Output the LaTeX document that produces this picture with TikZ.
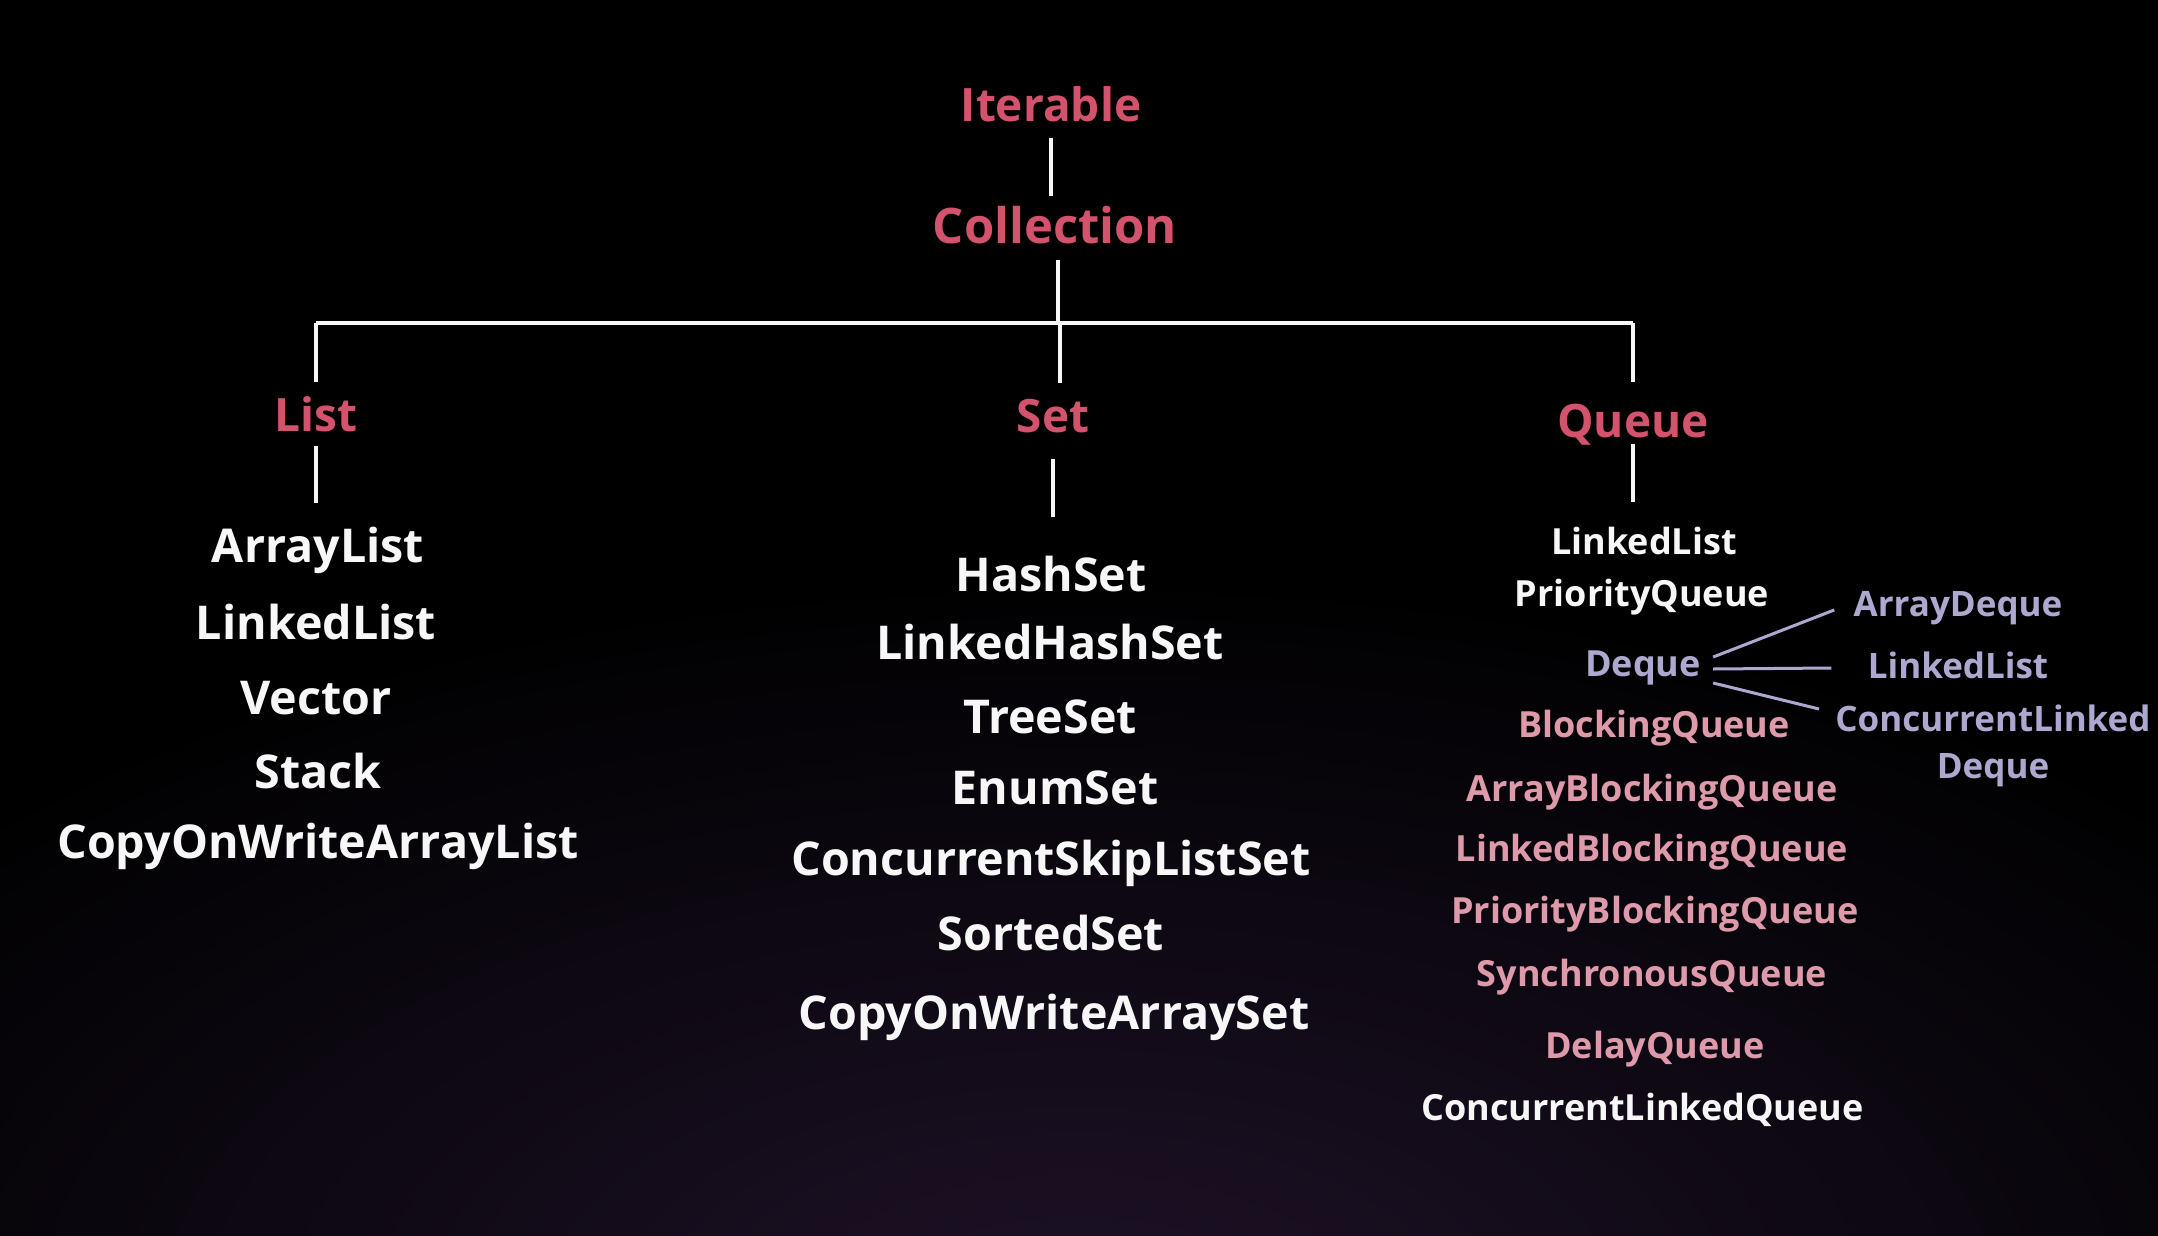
\documentclass[tikz,border=0pt]{standalone}
\usepackage{fontspec}
\setmainfont{Open Sans}
\definecolor{crim}{HTML}{D2536B}
\definecolor{pinkq}{HTML}{DE9AAB}
\definecolor{lav}{HTML}{ADA8D0}
\definecolor{offw}{HTML}{F7F7F7}
\definecolor{glow}{HTML}{1E1228}
\begin{document}
\begin{tikzpicture}[x=0.5pt,y=-0.5pt,
  title/.style={inner sep=0pt,text depth=0pt,text height=16.4pt,text=crim,font=\fontsize{23}{23}\selectfont\bfseries},
  bigtitle/.style={title,text height=17.5pt,font=\fontsize{24.5}{24.5}\selectfont\bfseries},
  item/.style={inner sep=0pt,text depth=0pt,text height=16.6pt,text=offw,font=\fontsize{23.3}{23.3}\selectfont\bfseries},
  qitem/.style={inner sep=0pt,text depth=0pt,text height=12.9pt,text=offw,font=\fontsize{18}{18}\selectfont\bfseries},
  bq/.style={qitem,text=pinkq},
  dq/.style={qitem,text=lav},
  dqsub/.style={dq,text height=12.5pt,font=\fontsize{17.5}{17.5}\selectfont\bfseries},
  link/.style={draw=offw,line width=2pt},
  dqlink/.style={draw=lav,line width=1.5pt}]
\useasboundingbox (0,0) rectangle (2158,1236);
\fill[black] (0,0) rectangle (2158,1236);
\begin{scope}
\clip (0,0) rectangle (2158,1236);
\shade[inner color=glow, outer color=black] (1079,1320) ellipse [x radius=1500, y radius=750];
\end{scope}
% titles
\node[title] (iter) at (1051,105) {Iterable};
\node[bigtitle] (coll) at (1055,225.5) {Collection};
\node[title] (list) at (316,415) {List};
\node[title] (set) at (1053,416) {Set};
\node[title] (queue) at (1633,421) {Queue};
% junctions
\coordinate (jc) at (1058,323);
\coordinate (jl) at (316,323);
\coordinate (jq) at (1633,323);
\coordinate (js) at (1060,323);
% list items
\node[item] (al) at (318,546) {ArrayList};
\node[item] (ll) at (316,623) {LinkedList};
\node[item] (vec) at (316,698) {Vector};
\node[item] (stk) at (318,772) {Stack};
\node[item] (cowal) at (318,842) {CopyOnWriteArrayList};
% set items
\node[item] (hs) at (1051,575) {HashSet};
\node[item] (lhs) at (1050,643) {LinkedHashSet};
\node[item] (ts) at (1050,717) {TreeSet};
\node[item] (es) at (1055,788) {EnumSet};
\node[item] (csls) at (1051,859) {ConcurrentSkipListSet};
\node[item] (ss) at (1051,934) {SortedSet};
\node[item] (cowas) at (1054,1013) {CopyOnWriteArraySet};
% queue items
\node[qitem] (qll) at (1644,542) {LinkedList};
\node[qitem] (pq) at (1642,594) {PriorityQueue};
\node[dq] (deque) at (1643,664) {Deque};
\node[bq] (bkq) at (1654,725) {BlockingQueue};
\node[bq] (abq) at (1652,789) {ArrayBlockingQueue};
\node[bq] (lbq) at (1652,849) {LinkedBlockingQueue};
\node[bq] (pbq) at (1655,911) {PriorityBlockingQueue};
\node[bq] (sq) at (1652,974) {SynchronousQueue};
\node[bq] (dlq) at (1655,1046) {DelayQueue};
\node[qitem] (clq) at (1642.5,1108) {ConcurrentLinkedQueue};
% deque subitems
\node[dqsub] (ad) at (1958,604) {ArrayDeque};
\node[dqsub] (dll) at (1958,666) {LinkedList};
\node[dqsub] (cld) at (1993,718.5) {ConcurrentLinked};
\node[dqsub] (cld2) at (1993,765.5) {Deque};
% connectors
\draw[link,shorten <=8pt,shorten >=6pt] (iter.south) -- (iter.south |- coll.north);
\draw[link,shorten <=8.5pt] (jc |- coll.south) -- (jc);
\draw[link] (jl) -- (jq);
\draw[link,shorten >=8pt] (jl) -- (list.north);
\draw[link,shorten >=8pt] (js) -- (js |- set.north);
\draw[link,shorten >=11pt] (jq) -- (queue.north);
\draw[link,shorten <=7pt,shorten >=13pt] (list.south) -- (list.south |- al.north);
\draw[link,shorten <=13pt,shorten >=20.5pt] (set.south) -- (set.south |- hs.north);
\draw[link,shorten <=3pt,shorten >=13.5pt] (queue.south) -- (queue.south |- qll.north);
\draw[dqlink] ([xshift=6pt,yshift=3.5pt]deque.east) -- ([xshift=-9.5pt,yshift=-3pt]ad.west);
\draw[dqlink] ([xshift=6pt,yshift=-2.5pt]deque.east) -- ([xshift=-18pt,yshift=-1pt]dll.west);
\draw[dqlink] ([xshift=6pt,yshift=-9.5pt]deque.east) -- ([xshift=-8pt,yshift=4.75pt]cld.west);
\end{tikzpicture}
\end{document}
